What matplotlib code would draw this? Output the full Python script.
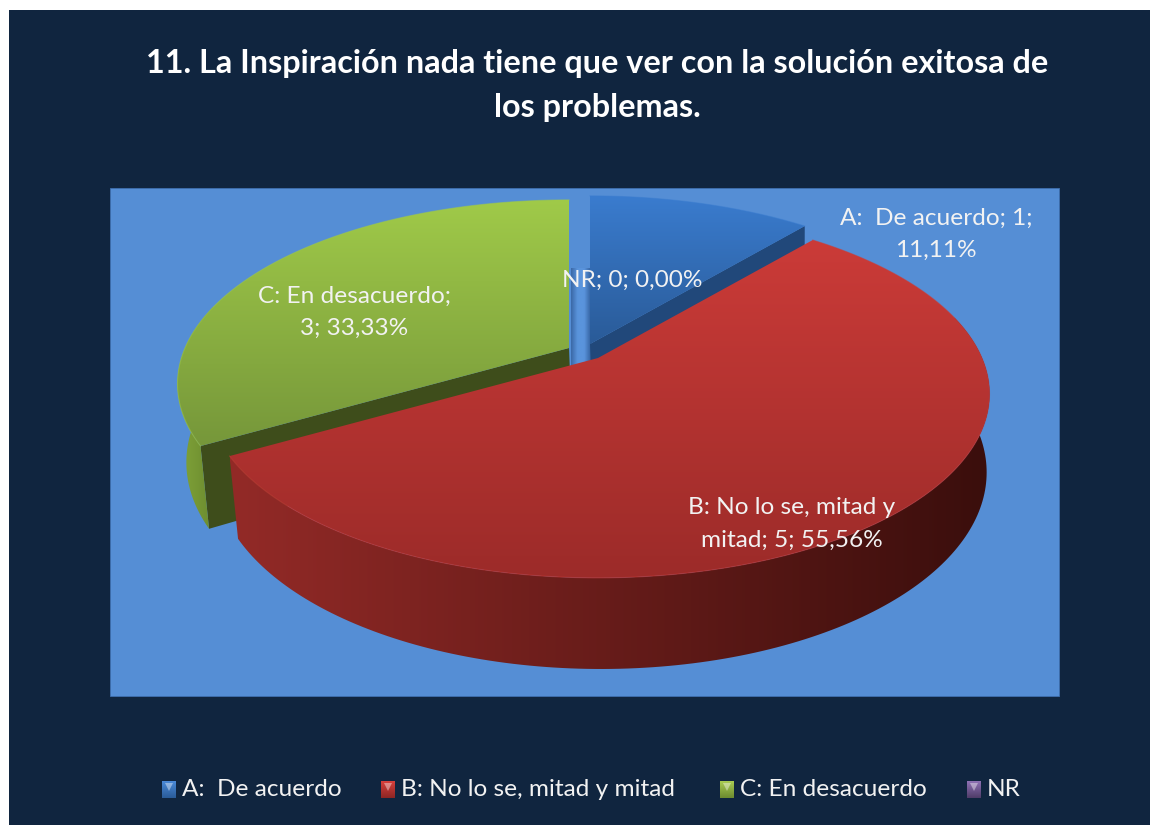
import numpy as np
import matplotlib
matplotlib.use("Agg")
import matplotlib.pyplot as plt
from matplotlib.patches import Polygon, Rectangle
from matplotlib.colors import LinearSegmentedColormap as LSC

title_lines = ["11. La Inspiración nada tiene que ver con la solución exitosa de", "los problemas."]
categories = ["A:  De acuerdo", "B: No lo se, mitad y mitad", "C: En desacuerdo", "NR"]
counts = [1, 5, 3, 0]
pct_labels = ["11,11%", "55,56%", "33,33%", "0,00%"]
top_colors = [("#3a7ccf", "#2a5b98"), ("#cb3b38", "#9c2b29"), ("#a0ca49", "#76973a"), ("#8064a2", "#5b4675")]
wall_colors = [("#2a5a96", "#1c3f6e"), ("#932a27", "#3a0e0c"), ("#82a53a", "#66852c"), ("#6b5390", "#4a3a66")]
inner_colors = ["#21487a", "#7a2220", "#3e4d1b", "#4a3a66"]
legend_x = [162, 381, 720, 967]
legend_colors = [("#4a8ad8", "#2a5b98"), ("#d8403c", "#8c2624"), ("#aacd52", "#6c8a30"), ("#8f72b5", "#4f3c68")]

W, H = 1150, 825
fig = plt.figure(figsize=(W / 100, H / 100), dpi=100, facecolor="white")
ax = fig.add_axes([0, 0, 1, 1])
ax.set_xlim(0, W); ax.set_ylim(H, 0); ax.axis("off")
ax.add_patch(Rectangle((9, 10), W - 9, H - 10, fc="#10253f", ec="none", zorder=0))
ax.add_patch(Rectangle((110, 188), 949, 508, fc="#558ed5", ec="#3f6fae", lw=0.6, zorder=1))

A_R, B_R, K, DEPTH, SHRINK, SKEW = 384, 177, 0.195, 76, 0.985, 3
# explosion-shifted pie centre of each slice, image pixels
centers = [(590, 344), (598, 358), (569, 348)]

def project(c, theta, r=1.0, bottom=False):
    u = r * np.cos(theta)
    s = 1 / (1 + K * u)
    x = A_R * r * np.sin(theta) * s
    y = -B_R * u * s
    if bottom:
        return c[0] + x * SHRINK + SKEW, c[1] + y * SHRINK + DEPTH * s
    return c[0] + x, c[1] + y

def grad_fill(poly_xy, colors, horizontal=False, zorder=3):
    poly_xy = np.asarray(poly_xy)
    x0, x1 = poly_xy[:, 0].min(), poly_xy[:, 0].max()
    y0, y1 = poly_xy[:, 1].min(), poly_xy[:, 1].max()
    cm = LSC.from_list("g", list(colors))
    g = np.linspace(0, 1, 256)
    data = g[None, :] if horizontal else g[:, None]
    im = ax.imshow(data, cmap=cm, aspect="auto", extent=(x0, x1, y1, y0), zorder=zorder, interpolation="bilinear")
    patch = Polygon(poly_xy, closed=True, transform=ax.transData, fc="none", ec="none")
    ax.add_patch(patch)
    im.set_clip_path(patch)

total = sum(counts)
edges = np.cumsum([0] + counts) / total * 2 * np.pi

# zero-value NR slice leaves only the gap between its neighbours
gap = [(centers[2][0] + 2, 268), (centers[0][0] + 1, 268), (centers[0][0] + 1, 368), (centers[2][0] + 2, 368)]
grad_fill(gap, ["#3a68a6", "#5a94dc", "#5a94dc", "#33619f"], horizontal=True, zorder=2)

def wedge(i, z):
    c = centers[i]
    t = np.linspace(edges[i], edges[i + 1], 200)
    ox, oy = project(c, t)
    bx, by = project(c, t, bottom=True)
    v = project(c, 0, 0)
    vb = project(c, 0, 0, bottom=True)
    # cut walls, drawn only when they face the viewer
    for a, normal in ((t[0], t[0] - np.pi / 2), (t[-1], t[-1] + np.pi / 2)):
        if np.cos(normal) < -1e-6:
            p = project(c, a); pb = project(c, a, bottom=True)
            ax.add_patch(Polygon([v, p, pb, vb], closed=True, fc=inner_colors[i], ec="none", zorder=z))
    # outer wall, only the front part is visible
    front = np.cos(t) < 0.25
    if front.any():
        wall = np.r_[np.c_[ox[front], oy[front]], np.c_[bx[front], by[front]][::-1]]
        grad_fill(wall, wall_colors[i], horizontal=True, zorder=z + 0.1)
    top = np.r_[[v], np.c_[ox, oy]]
    grad_fill(top, top_colors[i], zorder=z + 0.2)
    ax.plot(ox, oy, color=top_colors[i][0], lw=0.8, zorder=z + 0.3, alpha=0.5)

wedge(0, 3)
wedge(2, 4)
wedge(1, 5)

FONT = "Lato"
for txt, y in zip(title_lines, (62, 106)):
    ax.text(597, y + 1, txt, color="white", fontsize=23.3, fontweight="bold", family=FONT, ha="center", va="center", zorder=10)

LS = 17.6

def lab(x, y, l1, l2=None):
    ax.text(x, y, l1, color="#f2f2f2", fontsize=LS, family=FONT, ha="center", va="center", zorder=10)
    if l2:
        ax.text(x, y + 32, l2, color="#f2f2f2", fontsize=LS, family=FONT, ha="center", va="center", zorder=10)

lab(936, 218, f"{categories[0]}; {counts[0]};", pct_labels[0])
lab(792, 508, "B: No lo se, mitad y", f"mitad; {counts[1]}; {pct_labels[1]}")
lab(354, 296, f"{categories[2]};", f"{counts[2]}; {pct_labels[2]}")
lab(632, 280, f"{categories[3]}; {counts[3]}; {pct_labels[3]}")

for name, x, cols in zip(categories, legend_x, legend_colors):
    box = [(x, 781), (x + 14, 781), (x + 14, 798), (x, 798)]
    grad_fill(box, cols, zorder=10)
    ax.add_patch(Polygon([(x + 3, 783), (x + 11, 783), (x + 7, 791)], closed=True, fc="white", alpha=0.4, ec="none", zorder=11))
    ax.text(x + 20, 790, name, color="#f2f2f2", fontsize=LS, family=FONT, ha="left", va="center", zorder=10)

ax.set_xlim(0, W); ax.set_ylim(H, 0)
fig.savefig("out.png", dpi=100, facecolor="white")
